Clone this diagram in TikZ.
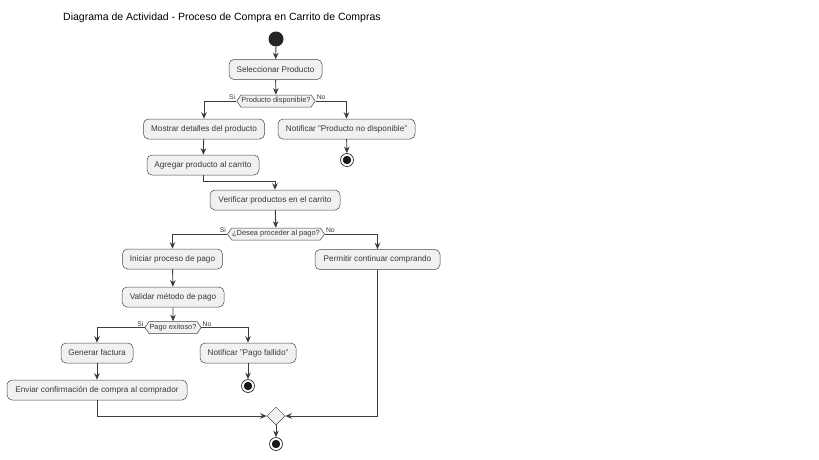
\documentclass[tikz,border=0pt]{standalone}
\usepackage{fontspec}
\setmainfont{Liberation Sans}
\usetikzlibrary{shapes.geometric,shapes.symbols,arrows.meta}
\definecolor{ln}{HTML}{181818}
\definecolor{bx}{HTML}{F1F1F1}
\definecolor{tx}{HTML}{383838}
\tikzset{
  act/.style={draw=ln!80, line width=0.5pt, fill=bx, rounded corners=5pt,
    minimum height=20pt, inner xsep=2pt, text=tx, font=\fontsize{8.2}{9}\selectfont},
  dec/.style={signal, signal to=east and west, signal pointer angle=110, draw=ln!80, line width=0.5pt,
    fill=bx, minimum height=12pt, inner xsep=0.5pt, inner ysep=0.5pt, text=tx,
    font=\fontsize{7.4}{8}\selectfont},
  startnode/.style={circle, fill=ln!95, minimum size=15pt, inner sep=0pt},
  endnode/.style={circle, draw=ln, line width=0.6pt, fill=white, minimum size=13pt, inner sep=0pt,
    path picture={\fill[ln] (path picture bounding box.center) circle (4.2pt);}},
  merge/.style={diamond, draw=ln!80, line width=0.5pt, fill=bx, minimum size=18pt, inner sep=0pt},
  arr/.style={draw=ln!85, line width=0.9pt, -{Stealth[length=6.5pt,width=5.5pt,inset=2pt]}},
  lbl/.style={font=\fontsize{6.8}{7}\selectfont, text=tx, inner sep=1pt}
}
\begin{document}
\begin{tikzpicture}[x=1pt,y=-1pt]
\useasboundingbox (0,0) rectangle (819,460);
\node[anchor=west, font=\fontsize{10.5}{12}\selectfont, inner sep=0pt] (title) at (63,18)
  {Diagrama de Actividad - Proceso de Compra en Carrito de Compras};

\node[startnode] (start) at (276,39) {};
\node[act, minimum width=93pt] (sel) at (275.5,69.5) {Seleccionar Producto};
\node[dec] (d1) at (276,101) {Producto disponible?};
\node[act, minimum width=121pt] (mos) at (204,129) {Mostrar detalles del producto};
\node[act, minimum width=137pt] (not1) at (346.5,129) {Notificar "Producto no disponible"};
\node[endnode] (end1) at (347,160) {};
\node[act, minimum width=112pt] (agr) at (203,165) {Agregar producto al carrito};
\node[act, minimum width=130pt] (ver) at (275,200) {Verificar productos en el carrito};
\node[dec] (d2) at (276,234) {¿Desea proceder al pago?};
\node[act, minimum width=100pt] (ini) at (172.5,259) {Iniciar proceso de pago};
\node[act, minimum width=125pt] (per) at (377.5,259.5) {Permitir continuar comprando};
\node[act, minimum width=102pt] (val) at (173,297) {Validar método de pago};
\node[dec] (d3) at (173,327.5) {Pago exitoso?};
\node[act, minimum width=72pt] (gen) at (97,353) {Generar factura};
\node[act, minimum width=96pt] (notp) at (248,353) {Notificar "Pago fallido"};
\node[endnode] (end2) at (248,386) {};
\node[act, minimum width=180pt] (env) at (97,390) {Enviar confirmación de compra al comprador};
\node[merge] (mg) at (276,416) {};
\node[endnode] (endf) at (276,444) {};

\draw[arr] (start) -- (sel);
\draw[arr] (sel) -- (d1);
\draw[arr] (d1.west) -| (mos.north);
\draw[arr] (d1.east) -| (not1.north);
\node[lbl, anchor=south east] (si1) at (d1.west) {Si};
\node[lbl, anchor=south west] (no1) at (d1.east) {No};
\draw[arr] (not1) -- (end1);
\draw[arr] (mos) -- (agr);
\draw[arr] (agr.south) -- ++(0,6) -| (ver.north);
\draw[arr] (ver) -- (d2);
\draw[arr] (d2.west) -| (ini.north);
\draw[arr] (d2.east) -| (per.north);
\node[lbl, anchor=south east] (si2) at (d2.west) {Si};
\node[lbl, anchor=south west] (no2) at (d2.east) {No};
\draw[arr] (ini) -- (val);
\draw[arr] (val) -- (d3);
\draw[arr] (d3.west) -| (gen.north);
\draw[arr] (d3.east) -| (notp.north);
\node[lbl, anchor=south east] (si3) at (d3.west) {Si};
\node[lbl, anchor=south west] (no3) at (d3.east) {No};
\draw[arr] (notp) -- (end2);
\draw[arr] (gen) -- (env);
\draw[arr] (env.south) |- (mg.west);
\draw[arr] (per.south) |- (mg.east);
\draw[arr] (mg) -- (endf);
\end{tikzpicture}
\end{document}
